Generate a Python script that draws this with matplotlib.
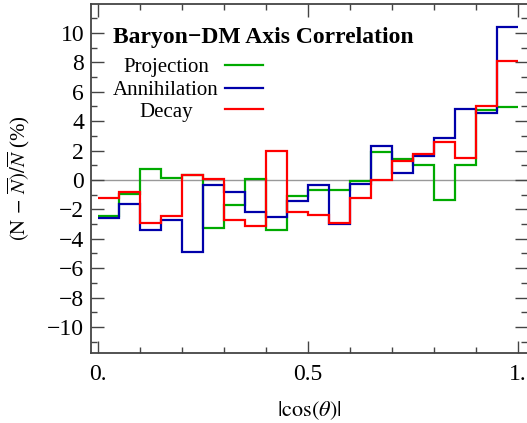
"""
Baryon-DM axis correlation: relative deviation of |cos(theta)| histograms.
"""

import matplotlib
matplotlib.use("Agg")
import matplotlib.pyplot as plt
from matplotlib.lines import Line2D
from matplotlib.ticker import FixedLocator, FixedFormatter

# Bin edges in |cos(theta)|
edges = [0.0, 0.05, 0.10, 0.15, 0.20, 0.25, 0.30, 0.35, 0.40, 0.45, 0.50,
         0.55, 0.60, 0.65, 0.70, 0.75, 0.80, 0.85, 0.90, 0.95, 1.0]

# (N - Nbar)/Nbar in percent, one value per bin
projection = [-2.45, -0.95, 0.77, 0.12, 0.35, -3.30, -1.72, 0.07, -3.42, -1.07,
              -0.66, -0.68, -0.10, 1.90, 1.40, 1.02, -1.36, 1.04, 4.78, 4.97]
annihilation = [-2.60, -1.63, -3.40, -2.74, -4.90, -0.33, -0.84, -2.15, -2.50, -1.45,
                -0.36, -3.00, -0.25, 2.29, 0.50, 1.60, 2.86, 4.81, 4.56, 10.39]
decay = [-1.20, -0.82, -2.90, -2.45, 0.37, 0.05, -2.74, -3.13, 1.95, -2.15,
         -2.38, -2.95, -1.22, 0.00, 1.29, 1.76, 2.56, 1.50, 5.03, 8.07]

series_names = ["Projection", "Annihilation", "Decay"]

GREEN = "#00aa00"
BLUE = "#0000aa"
RED = "#ff0000"
FRAME = "#444444"

plt.rcParams["font.family"] = ["Liberation Serif", "DejaVu Serif"]
plt.rcParams["mathtext.fontset"] = "stix"

fig = plt.figure(figsize=(5.27, 4.23), dpi=100)
ax = fig.add_axes([91 / 527, 70 / 423, 436 / 527, 349 / 423])

ax.axhline(0, color="#999999", linewidth=1.0, zorder=1)

colors = [GREEN, BLUE, RED]
for vals, col in zip([projection, annihilation, decay], colors):
    ax.stairs(vals, edges, baseline=None, color=col, linewidth=1.6, zorder=2)

ax.set_xlim(-0.0167, 1.0215)
ax.set_ylim(-11.77, 11.97)

# ticks, Mathematica style
ax.xaxis.set_major_locator(FixedLocator([0.0, 0.5, 1.0]))
ax.xaxis.set_major_formatter(FixedFormatter(["0.", "0.5", "1."]))
ax.xaxis.set_minor_locator(FixedLocator([0.1, 0.2, 0.3, 0.4, 0.6, 0.7, 0.8, 0.9]))
ax.yaxis.set_major_locator(FixedLocator([-10, -8, -6, -4, -2, 0, 2, 4, 6, 8, 10]))
ax.yaxis.set_minor_locator(FixedLocator([-11, -9, -7, -5, -3, -1, 1, 3, 5, 7, 9, 11]))

ax.tick_params(which="both", direction="in", top=True, right=True, color=FRAME,
               width=1.0, labelsize=17)
ax.tick_params(which="major", length=9)
ax.tick_params(which="minor", length=4.5)
ax.tick_params(axis="x", which="major", pad=8)
ax.tick_params(axis="y", which="major", pad=5)

for spine in ax.spines.values():
    spine.set_edgecolor(FRAME)
    spine.set_linewidth(1.3)
ax.spines["right"].set_visible(False)

ax.set_xlabel(r"$|\cos(\theta)|$", fontsize=16)
ax.xaxis.set_label_coords(0.5, -0.133)
ax.set_ylabel(r"$(\mathrm{N}\,-\,\overline{N})/\overline{N}$ (%)", fontsize=15)
ax.yaxis.set_label_coords(-0.135, 0.5)

# title inside frame
ax.text(0.0505, 0.888, "Baryon\u2212DM Axis Correlation", transform=ax.transAxes,
        fontsize=17, fontweight="bold", ha="left", va="baseline")

# hand-made legend: centred label, line sample to the right
label_y = [0.806, 0.739, 0.677]
line_y = [0.825, 0.759, 0.699]
for name, col, ty, ly in zip(series_names, colors, label_y, line_y):
    ax.text(0.172, ty, name, transform=ax.transAxes, fontsize=15,
            ha="center", va="baseline")
    ax.add_line(Line2D([0.307, 0.394], [ly, ly], transform=ax.transAxes,
                       color=col, linewidth=1.6))

fig.savefig("out.png", dpi=100)
